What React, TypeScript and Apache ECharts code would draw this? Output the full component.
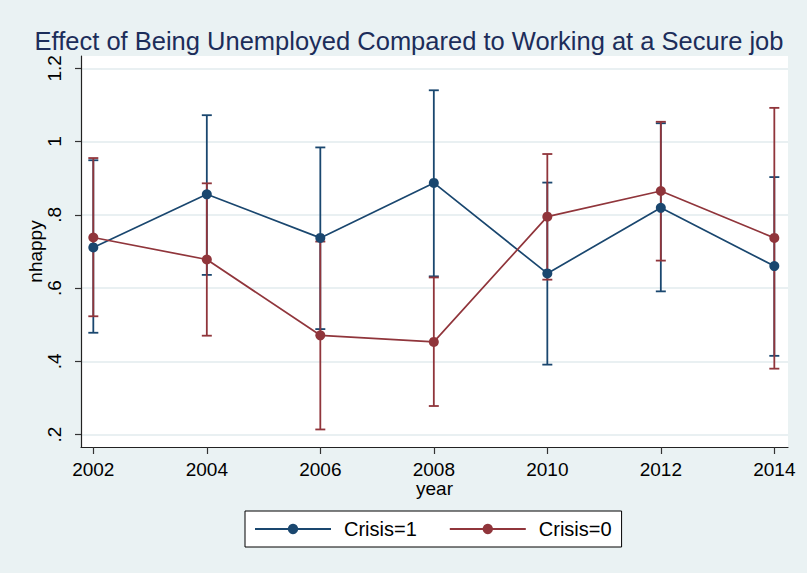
import React, { useEffect, useRef } from "react";
import * as echarts from "echarts";

// Survey years and estimated effect (with 95% CI) per crisis group
const years = [2002, 2004, 2006, 2008, 2010, 2012, 2014];

const crisis1Mean = [0.711, 0.856, 0.737, 0.887, 0.64, 0.819, 0.66];
const crisis1Low = [0.478, 0.636, 0.488, 0.632, 0.391, 0.591, 0.415];
const crisis1High = [0.949, 1.072, 0.984, 1.14, 0.888, 1.05, 0.903];

const crisis0Mean = [0.738, 0.678, 0.471, 0.453, 0.795, 0.865, 0.737];
const crisis0Low = [0.523, 0.47, 0.214, 0.278, 0.623, 0.675, 0.38];
const crisis0High = [0.955, 0.886, 0.727, 0.629, 0.966, 1.054, 1.092];

const yTicks = [0.2, 0.4, 0.6, 0.8, 1, 1.2];

const TITLE = "Effect of Being Unemployed Compared to Working at a Secure job";
const BLUE = "#1a476f";
const RED = "#90353b";
const BG = "#eaf2f3";
const FONT = "Liberation Sans, Arial, sans-serif";

const fmtY = (v: number) => String(Number(v.toFixed(1))).replace(/^0\./, ".");

function ciSeries(name: string, color: string, low: number[], high: number[]) {
  return {
    type: "custom",
    name,
    z: 2,
    silent: true,
    data: years.map((y, i) => [y, low[i], high[i]]),
    encode: { x: 0, y: [1, 2] },
    renderItem: (_params: any, api: any) => {
      const x = api.value(0);
      const top = api.coord([x, api.value(2)]);
      const bot = api.coord([x, api.value(1)]);
      const cap = 5;
      const style = { stroke: color, lineWidth: 1.8 };
      return {
        type: "group",
        children: [
          { type: "line", shape: { x1: top[0], y1: top[1], x2: bot[0], y2: bot[1] }, style },
          { type: "line", shape: { x1: top[0] - cap, y1: top[1], x2: top[0] + cap, y2: top[1] }, style },
          { type: "line", shape: { x1: bot[0] - cap, y1: bot[1], x2: bot[0] + cap, y2: bot[1] }, style },
        ],
      };
    },
  };
}

function meanSeries(name: string, color: string, mean: number[]) {
  return {
    type: "line",
    name,
    z: 3,
    data: years.map((y, i) => [y, mean[i]]),
    symbol: "circle",
    symbolSize: 10,
    itemStyle: { color },
    lineStyle: { color, width: 1.7 },
  };
}

export default function App() {
  const ref = useRef<HTMLDivElement>(null);

  useEffect(() => {
    if (!ref.current) return;
    const chart = echarts.init(ref.current, null, { renderer: "svg" });
    chart.setOption({
      animation: false,
      backgroundColor: BG,
      title: {
        text: TITLE,
        left: 404,
        textAlign: "center",
        top: 23,
        textStyle: { fontFamily: FONT, fontSize: 25.5, fontWeight: "normal", color: "#1c2d5a" },
      },
      legend: {
        data: ["Crisis=1", "Crisis=0"],
        left: 245,
        top: 511,
        orient: "horizontal",
        backgroundColor: "#fff",
        borderColor: "#000",
        borderWidth: 1,
        borderRadius: 0,
        padding: [8, 10, 8, 9],
        itemWidth: 76,
        itemHeight: 13,
        itemGap: 32,
        textStyle: { fontFamily: FONT, fontSize: 20, color: "#000", padding: [0, 0, 0, 8] },
      },
      grid: {
        left: 81,
        right: 19,
        top: 56,
        bottom: 126,
        show: true,
        backgroundColor: "#fff",
        borderWidth: 0,
      },
      xAxis: {
        type: "value",
        min: 2001.783,
        max: 2014.241,
        name: "year",
        nameLocation: "middle",
        nameGap: 32,
        nameMoveOverlap: false,
        nameTextStyle: { fontFamily: FONT, fontSize: 19, lineHeight: 19, color: "#000" },
        axisLine: { show: true, lineStyle: { color: "#222", width: 1.2 } },
        axisTick: { show: true, length: 7, customValues: years, lineStyle: { color: "#333", width: 1.2 } },
        axisLabel: {
          customValues: years,
          margin: 13,
          fontFamily: FONT,
          fontSize: 19,
          lineHeight: 19,
          color: "#000",
          formatter: (v: number) => String(v),
        },
        splitLine: { show: false },
      },
      yAxis: {
        type: "value",
        min: 0.1661,
        max: 1.2336,
        name: "nhappy",
        nameLocation: "middle",
        nameRotate: 90,
        nameGap: 36,
        nameMoveOverlap: false,
        nameTextStyle: { fontFamily: FONT, fontSize: 19, lineHeight: 19, color: "#000" },
        axisLine: { show: true, lineStyle: { color: "#222", width: 1.2 } },
        axisTick: { show: true, length: 6, customValues: yTicks, lineStyle: { color: "#333", width: 1.2 } },
        axisLabel: {
          customValues: yTicks,
          rotate: 90,
          margin: 17,
          fontFamily: FONT,
          fontSize: 19,
          lineHeight: 19,
          color: "#000",
          formatter: fmtY,
        },
        splitLine: { show: true, lineStyle: { color: "#e2ebee", width: 1.5 } },
      },
      series: [
        ciSeries("ci1", BLUE, crisis1Low, crisis1High),
        ciSeries("ci0", RED, crisis0Low, crisis0High),
        meanSeries("Crisis=1", BLUE, crisis1Mean),
        meanSeries("Crisis=0", RED, crisis0Mean),
      ],
    });
    return () => chart.dispose();
  }, []);

  return (
    <div
      ref={ref}
      style={{ position: "absolute", left: 0, top: 0, width: 807, height: 573 }}
    />
  );
}
